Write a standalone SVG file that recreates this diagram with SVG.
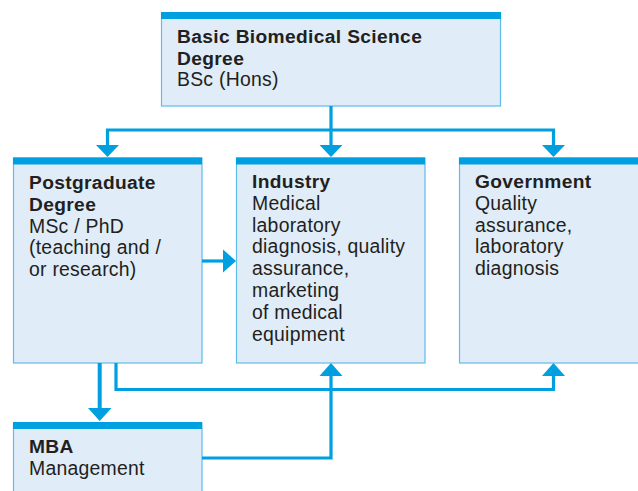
<svg xmlns="http://www.w3.org/2000/svg" width="638" height="491" viewBox="0 0 638 491">
<defs>
<style>
.box{fill:#e0ecf8;stroke:#5ebde9;stroke-width:1.2}
.bar{fill:#009fdf}
.t{font-family:"Liberation Sans",Arial,sans-serif;font-size:19.4px;fill:#231f20;letter-spacing:0.25px}
.b{font-weight:bold;font-size:19.2px;letter-spacing:0.35px}
.c{fill:none;stroke:#009fdf;stroke-width:3.2}
.h{fill:#009fdf}
</style>
</defs>
<rect width="638" height="491" fill="#ffffff"/>
<g id="basic">
<rect class="box" x="161.5" y="13" width="339" height="93"/>
<rect class="bar" x="161" y="12" width="340" height="7"/>
<text class="t b" x="177" y="43">Basic Biomedical Science</text>
<text class="t b" x="177" y="64.5">Degree</text>
<text class="t" x="177" y="86">BSc (Hons)</text>
</g>
<g id="postgrad">
<rect class="box" x="13.5" y="158" width="188.5" height="205"/>
<rect class="bar" x="13" y="157.5" width="189" height="7"/>
<text class="t b" x="29" y="189">Postgraduate</text>
<text class="t b" x="29" y="210.8">Degree</text>
<text class="t" x="29" y="232.6">MSc / PhD</text>
<text class="t" x="29" y="254.4">(teaching and /</text>
<text class="t" x="29" y="276.2">or research)</text>
</g>
<g id="industry">
<rect class="box" x="236.5" y="158" width="188.5" height="205"/>
<rect class="bar" x="236" y="157.5" width="189" height="7"/>
<text class="t b" x="252" y="188">Industry</text>
<text class="t" x="252" y="209.8">Medical</text>
<text class="t" x="252" y="231.6">laboratory</text>
<text class="t" x="252" y="253.4">diagnosis, quality</text>
<text class="t" x="252" y="275.2">assurance,</text>
<text class="t" x="252" y="297">marketing</text>
<text class="t" x="252" y="318.8">of medical</text>
<text class="t" x="252" y="340.6">equipment</text>
</g>
<g id="government">
<rect class="box" x="459.5" y="158" width="190" height="205"/>
<rect class="bar" x="459" y="157.5" width="190" height="7"/>
<text class="t b" x="475" y="188">Government</text>
<text class="t" x="475" y="209.8">Quality</text>
<text class="t" x="475" y="231.6">assurance,</text>
<text class="t" x="475" y="253.4">laboratory</text>
<text class="t" x="475" y="275.2">diagnosis</text>
</g>
<g id="mba">
<rect class="box" x="13.5" y="423" width="188.5" height="80"/>
<rect class="bar" x="13" y="422" width="189" height="7"/>
<text class="t b" x="29" y="453">MBA</text>
<text class="t" x="29" y="474.5">Management</text>
</g>
<g id="connectors">
<path class="c" d="M331 106V146M107.5 146V130H553.5V146"/>
<polygon class="h" points="319.5,145 342.5,145 331,157"/>
<polygon class="h" points="96,145 119,145 107.5,157"/>
<polygon class="h" points="542,145 565,145 553.5,157"/>
<path class="c" d="M202 261H224"/>
<polygon class="h" points="223,249.5 223,272.5 236,261"/>
<path class="c" d="M99.7 363V409" style="stroke-width:4"/>
<polygon class="h" points="88,408 111.5,408 99.7,421"/>
<path class="c" d="M116 363V389.5H553.5V375"/>
<polygon class="h" points="542,376 565,376 553.5,363"/>
<path class="c" d="M202 458H331V375"/>
<polygon class="h" points="319.5,376 342.5,376 331,363"/>
</g>
</svg>
